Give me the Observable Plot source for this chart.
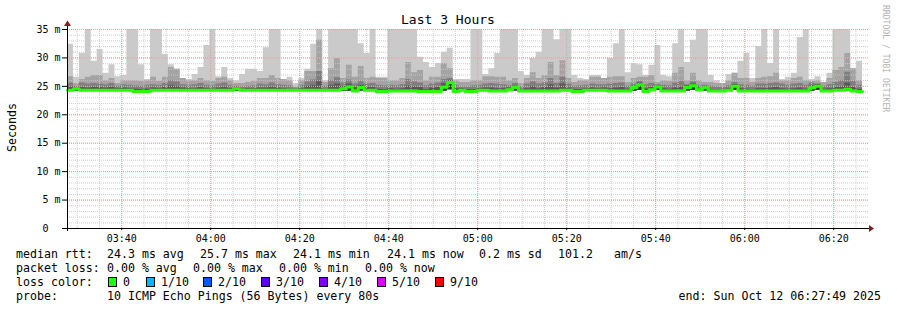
<!DOCTYPE html>
<html><head><meta charset="utf-8">
<script src="https://cdn.jsdelivr.net/npm/d3@7"></script>
<script src="https://cdn.jsdelivr.net/npm/@observablehq/plot@0.6"></script>
<style>
html,body{margin:0;padding:0;background:#fff;}
#chart svg{display:block;}
#chart svg text{white-space:pre;}
</style></head><body><div id="chart"></div>
<script>
// ---------- data ----------
const title = "Last 3 Hours";
const yLabel = "Seconds";
const watermark = "RRDTOOL / TOBI OETIKER";
const startTime = "2025-10-12T03:27:49Z";
const endTime = "2025-10-12T06:27:49Z";
const stepSeconds = 80;
const xTickLabels = ["03:40","04:00","04:20","04:40","05:00","05:20","05:40","06:00","06:20"];
const yTickValues = [0,5,10,15,20,25,30,35];
const yTickLabels = ["0\u00a0\u00a0","5 m","10 m","15 m","20 m","25 m","30 m","35 m"];

// smoke (ms): max ping, 8th, 7th, 6th ping, min ping; median rtt
const smokeMax = [32.4,26.6,30.8,35,29.4,31.5,27.3,28.8,26.7,26.9,
35,35,28.8,26.2,35,35,30.6,28.8,28.0,26.4,
26.2,27.1,28.3,32.2,35,26.7,28.3,26.4,26.0,27.1,
28.0,28.0,27.6,31.8,35,35,26.2,26.6,25.5,26.4,
28.0,32.4,35,26.0,35,35,35,35,35,32.5,
30.8,35,26.6,26.6,35,35,35,35,35,30.1,
29.2,28.3,29.0,31.0,31.7,26.2,26.2,26.2,35,35,
27.1,28.1,30.8,35,35,35,27.6,26.9,29.9,31.0,
35,35,33.2,35,35,26.9,26.4,26.2,26.9,26.9,
26.4,29.9,32.5,35,27.4,29.0,28.8,26.9,28.7,32.2,
26.9,26.7,32.5,35,29.2,33.1,35,35,26.9,26.0,
25.5,27.1,27.3,29.4,30.8,26.4,32.0,35,29.0,35,
26.2,26.6,27.3,33.6,35,26.2,26.7,25.7,27.3,35,
35,35,28.1,29.4];
const smokeP8 = [26.7,25.5,26.2,26.6,26.9,26.9,26.0,26.4,25.5,26.0,
26.0,26.0,25.9,26.0,26.6,25.9,26.6,28.3,28.0,26.4,
26.0,26.0,26.4,26.0,25.9,26.4,26.6,26.0,25.5,25.5,
25.7,25.9,26.4,26.4,26.9,26.4,26.2,26.0,24.8,26.0,
27.6,27.6,33.1,25.7,28.1,29.9,26.4,28.7,26.6,28.5,
26.4,26.6,26.4,26.4,26.0,26.0,26.4,29.2,27.4,27.8,
26.0,26.6,26.6,29.0,28.1,26.0,25.7,25.7,26.0,26.0,
26.7,26.7,26.6,26.6,26.0,26.4,25.5,26.4,27.4,26.4,
26.9,29.2,26.9,29.5,26.4,25.7,26.0,26.0,26.6,26.6,
26.4,26.6,26.7,26.7,25.7,26.4,26.6,26.6,26.9,25.7,
26.0,25.9,27.3,28.3,26.0,27.3,26.0,25.7,25.7,25.5,
25.5,26.0,27.3,26.4,26.4,25.7,26.4,26.6,26.7,27.3,
26.0,26.0,26.4,26.6,26.0,25.9,26.0,25.7,26.4,27.8,
28.3,30.8,28.1,26.0];
const smokeP7 = [25.6,25.0,25.6,25.4,25.5,25.4,25.3,25.5,25.0,25.3,
25.2,25.1,25.0,25.2,25.3,25.2,25.5,26.0,25.8,25.3,
25.2,25.3,25.5,25.2,25.1,25.4,25.6,25.2,25.0,24.9,
25.0,25.1,25.4,25.3,25.6,25.3,25.2,25.1,24.7,25.2,
25.8,26.1,27.6,25.0,26.0,26.5,25.6,26.1,25.4,25.9,
25.4,25.5,25.2,25.1,25.2,25.1,25.3,26.2,25.8,25.6,
25.1,25.4,25.6,26.2,26.4,25.2,24.9,24.9,25.1,25.2,
25.4,25.5,25.4,25.3,25.1,25.5,24.9,25.4,25.8,25.4,
25.6,26.4,25.5,26.6,25.4,25.0,25.1,25.2,25.4,25.3,
25.3,25.4,25.5,25.6,25.0,25.4,25.9,25.3,25.5,25.3,
25.2,25.1,25.6,25.9,25.3,25.8,25.2,25.2,25.0,24.9,
24.8,25.1,25.7,25.3,25.2,25.0,25.4,25.4,25.5,25.6,
25.4,25.2,25.4,25.5,25.2,25.6,25.4,25.0,25.3,25.7,
26.0,27.5,25.9,25.2];
const smokeP6 = [24.9,24.8,24.8,24.7,24.9,24.8,24.7,24.9,24.6,24.7,
24.6,24.5,24.4,24.5,24.7,24.6,24.8,25.2,25.0,24.7,
24.6,24.6,24.8,24.6,24.5,24.7,24.9,24.6,24.8,24.5,
24.6,24.6,24.7,24.7,24.9,24.7,24.6,24.5,24.4,24.6,
25.0,25.2,25.9,24.5,25.2,25.4,25.0,25.4,24.8,25.2,
24.8,24.8,24.5,24.4,24.6,24.5,24.6,25.1,24.9,24.8,
24.4,24.7,24.8,25.5,26.0,24.6,24.6,24.4,24.4,24.6,
24.7,24.7,24.6,24.6,24.7,25.0,24.4,24.6,25.0,24.6,
24.8,25.3,24.7,25.4,24.7,24.4,24.4,24.6,24.7,24.6,
24.7,24.6,24.7,24.8,24.5,25.0,25.6,24.6,24.8,25.1,
24.6,24.5,24.7,24.9,25.1,25.4,24.7,24.9,24.4,24.4,
24.3,24.6,25.3,24.6,24.5,24.4,24.6,24.6,24.7,24.8,
24.6,24.5,24.6,24.7,24.5,25.1,25.3,24.5,24.6,24.8,
24.9,25.6,24.8,24.5];
const smokeMin = [24.1,24.2,24.1,24.1,24.2,24.1,24.1,24.2,24.1,24.1,
24.1,24.0,24.0,24.0,24.1,24.1,24.2,24.1,24.1,24.1,
24.1,24.2,24.1,24.1,24.1,24.2,24.1,24.1,24.2,24.1,
24.1,24.1,24.2,24.1,24.1,24.1,24.2,24.1,24.1,24.1,
24.1,24.2,24.1,24.1,24.2,24.1,24.2,24.2,24.0,24.2,
24.1,24.1,24.0,24.0,24.1,24.0,24.1,24.1,24.0,24.0,
24.0,24.0,24.0,24.2,24.4,24.0,24.1,24.0,24.0,24.1,
24.1,24.0,24.1,24.0,24.1,24.2,24.0,24.1,24.0,24.1,
24.0,24.1,24.0,24.1,24.1,24.0,24.0,24.1,24.1,24.1,
24.1,24.0,24.1,24.0,24.1,24.2,24.3,24.0,24.1,24.3,
24.1,24.0,24.1,24.0,24.2,24.3,24.1,24.2,24.0,24.1,
24.0,24.1,24.3,24.0,24.1,24.0,24.1,24.0,24.1,24.0,
24.1,24.0,24.1,24.0,24.1,24.2,24.3,24.0,24.1,24.1,
24.1,24.2,24.0,24.0];
const medianRtt = [24.3,24.6,24.3,24.3,24.3,24.3,24.3,24.3,24.3,24.3,
24.3,24.1,24.1,24.1,24.3,24.3,24.3,24.3,24.3,24.3,
24.3,24.3,24.3,24.3,24.3,24.3,24.3,24.3,24.6,24.3,
24.3,24.3,24.3,24.3,24.3,24.3,24.3,24.3,24.3,24.3,
24.3,24.3,24.3,24.3,24.3,24.3,24.6,24.9,24.2,24.8,
24.3,24.3,24.1,24.1,24.2,24.2,24.2,24.2,24.2,24.1,
24.1,24.1,24.1,24.85,25.7,24.1,24.3,24.1,24.1,24.3,
24.3,24.2,24.2,24.2,24.4,24.8,24.2,24.2,24.2,24.2,
24.2,24.2,24.2,24.3,24.3,24.1,24.1,24.3,24.3,24.3,
24.3,24.2,24.2,24.2,24.2,24.8,25.3,24.1,24.4,24.9,
24.2,24.2,24.2,24.2,24.8,25.1,24.4,24.75,24.2,24.2,
24.2,24.3,25.0,24.2,24.2,24.2,24.2,24.2,24.2,24.2,
24.2,24.2,24.2,24.2,24.2,24.75,25.0,24.2,24.2,24.3,
24.3,24.5,24.2,24.1];

const legendRtt = ["median rtt:","24.3 ms avg","25.7 ms max","24.1 ms min","24.1 ms now","0.2 ms sd","101.2","am/s"];
const legendLoss = ["packet loss:","0.00 % avg","0.00 % max","0.00 % min","0.00 % now"];
const lossTitle = "loss color:";
const lossLabels = ["0","1/10","2/10","3/10","4/10","5/10","9/10"];
const lossColors = ["#26ff00","#00b8ff","#0059ff","#5e00ff","#7e00ff","#dd00ff","#ff0000"];
const probeLine = ["probe:","10 ICMP Echo Pings (56 Bytes) every 80s"];
const endLabel = "end: Sun Oct 12 06:27:49 2025";

// ---------- build ----------
const t0 = new Date(startTime), t1 = new Date(endTime);
const rows = medianRtt.map((m, i) => ({
  t: new Date(+t0 + i * stepSeconds * 1000),
  max: smokeMax[i], p8: smokeP8[i], p7: smokeP7[i], p6: smokeP6[i], min: smokeMin[i], med: m
}));
rows.push({...rows[rows.length - 1], t: new Date(+t0 + rows.length * stepSeconds * 1000)});

const xTickDates = xTickLabels.map(s => new Date(startTime.slice(0, 11) + s + ":00Z"));
const minorX = d3.utcMinute.every(5).range(t0, t1);
const majorX = d3.utcMinute.every(20).range(t0, t1);
const minorY = d3.range(1, 36);
const majorY = yTickValues.filter(v => v > 0);

const font = "'DejaVu Sans Mono', monospace";
const smoke = (key, fill) => Plot.areaY(rows, {x: "t", y1: "min", y2: key, fill, curve: "step-after", clip: true});

const svg = Plot.plot({
  width: 897, height: 310,
  marginLeft: 67, marginRight: 29, marginTop: 29, marginBottom: 82,
  x: {type: "utc", domain: [t0, t1]},
  y: {domain: [0, 35]},
  style: {background: "#fff", color: "#000", fontFamily: font, fontSize: "10px", overflow: "visible"},
  marks: [
    smoke("max", "#cacaca"),
    smoke("p8", "#a4a4a4"),
    smoke("p7", "#7e7e7e"),
    smoke("p6", "#585858"),
    smoke("med", "#323232"),
    Plot.ruleY(minorY, {stroke: "#c8c8c8", strokeDasharray: "1,1", strokeOpacity: 0.9}),
    Plot.ruleX(minorX, {stroke: "#c8c8c8", strokeDasharray: "1,1", strokeOpacity: 0.9}),
    Plot.ruleY(majorY, {stroke: "#f09a9a", strokeDasharray: "1,1"}),
    Plot.ruleX(majorX, {stroke: "#f09a9a", strokeDasharray: "1,1"}),
    Plot.lineY(rows, {x: "t", y: "med", stroke: "#26ff00", strokeWidth: 3, curve: "step-after"}),
    Plot.axisX(xTickDates, {tickFormat: d3.utcFormat("%H:%M"), tickSize: 2, tickPadding: 4, label: null, fontSize: 10}),
    Plot.axisY(yTickValues, {tickFormat: d => yTickLabels[yTickValues.indexOf(d)], tickSize: 5, tickPadding: 2, label: null, fontSize: 10})
  ]
});
document.getElementById("chart").appendChild(svg);

const xs = svg.scale("x"), ys = svg.scale("y");
const g = d3.select(svg).append("g").attr("font-family", font).attr("text-anchor", "start");
const xL = xs.range[0], xR = xs.range[1], yB = ys.range[0], yT = ys.range[1];

// axis lines and arrows
g.append("line").attr("x1", xL - 5).attr("x2", xR + 1).attr("y1", yB + 0.5).attr("y2", yB + 0.5).attr("stroke", "#000");
g.append("line").attr("x1", xL + 0.5).attr("x2", xL + 0.5).attr("y1", yB + 3).attr("y2", yT - 3).attr("stroke", "#000");
g.append("path").attr("d", `M${xR + 1},${yB - 3} L${xR + 6},${yB + 0.5} L${xR + 1},${yB + 4} Z`).attr("fill", "#8b1a1a");
g.append("path").attr("d", `M${xL - 3},${yT - 3} L${xL + 0.5},${yT - 8.5} L${xL + 4},${yT - 3} Z`).attr("fill", "#8b1a1a");

// title, y label, watermark
g.append("text").attr("x", 448).attr("y", 24).attr("text-anchor", "middle").attr("font-size", 13).attr("fill", "#000").text(title);
g.append("text").attr("transform", `translate(16,${(yB + yT) / 2 - 1}) rotate(-90)`).attr("text-anchor", "middle")
  .attr("font-size", 11.6).attr("fill", "#000").text(yLabel);
g.append("text").attr("transform", "translate(883,5) rotate(90)").attr("text-anchor", "start").attr("font-size", 8.1).attr("fill", "#b4b4b4").text(watermark);

// legend
const lf = 11.6;
const addText = (x, y, s) => g.append("text").attr("x", x).attr("y", y).attr("text-anchor", "start").attr("font-size", lf).attr("fill", "#000").attr("xml:space", "preserve").text(s);
const rttX = [16, 107, 200, 293, 387, 479, 558, 614];
legendRtt.forEach((s, i) => addText(rttX[i], 258, s));
const lossX = [16, 107, 193, 279, 365];
legendLoss.forEach((s, i) => addText(lossX[i], 272, s));
addText(16, 286, lossTitle);
const boxX = [108, 146, 203, 261, 319, 377, 435];
lossLabels.forEach((s, i) => {
  g.append("rect").attr("x", boxX[i] + 0.5).attr("y", 277.5).attr("width", 8).attr("height", 9)
    .attr("fill", lossColors[i]).attr("stroke", "#000").attr("stroke-width", 1);
  addText(boxX[i] + 15, 286, s);
});
addText(16, 300, probeLine[0]);
addText(107, 300, probeLine[1]);
g.append("text").attr("x", 881).attr("y", 300).attr("text-anchor", "end").attr("font-size", lf).attr("fill", "#000").text(endLabel);
</script>
</body></html>
